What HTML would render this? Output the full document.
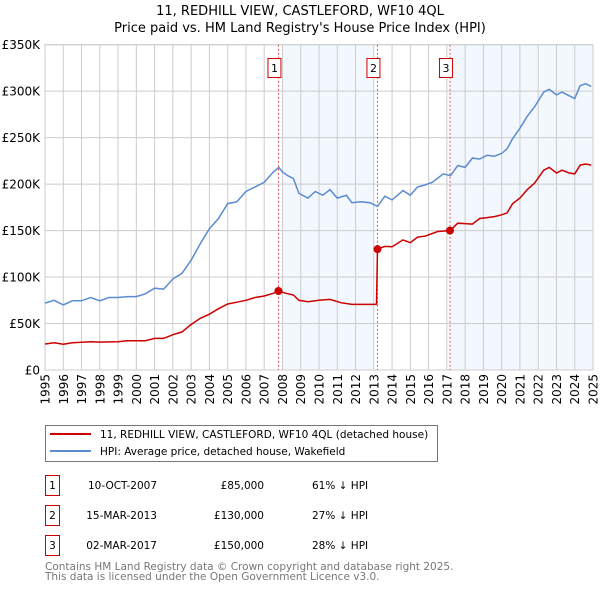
<!DOCTYPE html>
<html><head><meta charset="utf-8"><style>
body{margin:0;background:#fff;}
svg{display:block;font-family:"DejaVu Sans","Liberation Sans",sans-serif;}
</style></head><body>
<svg id="chart" width="600" height="590" viewBox="0 0 600 590">
<text x="300" y="15" text-anchor="middle" font-size="13">11, REDHILL VIEW, CASTLEFORD, WF10 4QL</text>
<text x="300" y="32" text-anchor="middle" font-size="13">Price paid vs. HM Land Registry's House Price Index (HPI)</text>
<g id="plot"></g>
<g>
<rect x="45.5" y="425.5" width="392" height="36" fill="#fff" stroke="#777"/>
<line x1="50" y1="434" x2="91" y2="434" stroke="#cc0000" stroke-width="2"/>
<text x="100" y="438" font-size="10.5">11, REDHILL VIEW, CASTLEFORD, WF10 4QL (detached house)</text>
<line x1="50" y1="451" x2="91" y2="451" stroke="#5b8bd0" stroke-width="2"/>
<text x="100" y="455" font-size="10.5">HPI: Average price, detached house, Wakefield</text>
</g>
<g font-size="10.5">
<rect x="45.5" y="475.5" width="14" height="20" fill="none" stroke="#cc0000"/>
<text x="52.5" y="489" text-anchor="middle">1</text>
<text x="157" y="489" text-anchor="end">10-OCT-2007</text>
<text x="264" y="489" text-anchor="end">£85,000</text>
<text x="312" y="489">61% ↓ HPI</text>
<rect x="45.5" y="505.5" width="14" height="20" fill="none" stroke="#cc0000"/>
<text x="52.5" y="519" text-anchor="middle">2</text>
<text x="157" y="519" text-anchor="end">15-MAR-2013</text>
<text x="264" y="519" text-anchor="end">£130,000</text>
<text x="312" y="519">27% ↓ HPI</text>
<rect x="45.5" y="535.5" width="14" height="20" fill="none" stroke="#cc0000"/>
<text x="52.5" y="549" text-anchor="middle">3</text>
<text x="157" y="549" text-anchor="end">02-MAR-2017</text>
<text x="264" y="549" text-anchor="end">£150,000</text>
<text x="312" y="549">28% ↓ HPI</text>
</g>
<text x="45" y="570" font-size="10.5" fill="#777">Contains HM Land Registry data © Crown copyright and database right 2025.</text>
<text x="45" y="580" font-size="10.5" fill="#777">This data is licensed under the Open Government Licence v3.0.</text>
</svg>
<script>
const yTicks = [0, 50, 100, 150, 200, 250, 300, 350];
const yTickLabels = ["£0","£50K","£100K","£150K","£200K","£250K","£300K","£350K"];
const years = [1995,1996,1997,1998,1999,2000,2001,2002,2003,2004,2005,2006,2007,2008,2009,2010,2011,2012,2013,2014,2015,2016,2017,2018,2019,2020,2021,2022,2023,2024,2025];
const saleDates = [2007.78, 2013.2, 2017.17];
const salePrices = [85, 130, 150];
const saleLabels = ["1","2","3"];
const hpiDates = [1995.0,1995.5,1996.0,1996.5,1997.0,1997.5,1998.0,1998.5,1999.0,1999.5,2000.0,2000.5,2001.0,2001.5,2002.0,2002.5,2003.0,2003.25,2003.5,2004.0,2004.5,2005.0,2005.5,2006.0,2006.5,2007.0,2007.5,2007.8,2008.0,2008.3,2008.6,2008.9,2009.4,2009.8,2010.2,2010.6,2011.0,2011.5,2011.8,2012.3,2012.8,2013.2,2013.6,2014.0,2014.6,2015.0,2015.4,2015.8,2016.2,2016.8,2017.2,2017.6,2018.0,2018.4,2018.8,2019.2,2019.6,2020.0,2020.3,2020.6,2021.0,2021.4,2021.8,2022.3,2022.6,2023.0,2023.3,2023.7,2024.0,2024.3,2024.6,2024.9];
const hpiValues = [72,75,70,74.5,74.5,78,74.5,78,78,79,79,82,88,87,98,104,118,127,136,152,163,179,181,192,197,202,213,218,213,209,206,190,185,192,188,194,185,188,180,181,180,176,187,183,193,188,197,199,202,211,209,220,218,228,227,231,230,233,238,249,260,273,283,299,302,296,299,295,292,306,308,305];
const priceDates = [1995.0,1995.5,1996.0,1996.5,1997.5,1998.0,1999.0,1999.5,2000.5,2001.0,2001.5,2002.0,2002.5,2003.0,2003.5,2004.0,2004.5,2005.0,2005.5,2006.0,2006.5,2007.0,2007.5,2007.78,2008.2,2008.6,2008.9,2009.4,2010.0,2010.6,2011.2,2011.8,2012.5,2013.15,2013.2,2013.6,2014.0,2014.6,2015.0,2015.4,2015.8,2016.5,2017.17,2017.6,2018.0,2018.4,2018.8,2019.2,2019.6,2020.0,2020.3,2020.6,2021.0,2021.4,2021.8,2022.3,2022.6,2023.0,2023.3,2023.7,2024.0,2024.3,2024.6,2024.9];
const priceValues = [28,29.4,27.6,29.4,30.5,30,30.5,31.5,31.5,34,34,38,41,49,55.6,60,66,71,73,75,78,79.6,82.5,85,82.5,80.7,75,73.5,75,76,72.4,70.6,70.6,70.6,130,133,132.6,140,137,143,144,149,150,158,157.5,157,163,164,165,167,169,179,185,194,201,215,218,212,215,212,211,220.5,221.6,220.5];

const X0=45, X1=593, Y0=370, Y1=44.7;
const xs = d => X0 + (d-1995)/(2025-1995)*(X1-X0);
const ys = v => Y0 - v/350*(Y0-Y1);
const NS="http://www.w3.org/2000/svg";
const plot=document.getElementById('plot');
function mk(tag, attrs, parent){const e=document.createElementNS(NS,tag);for(const k in attrs)e.setAttribute(k,attrs[k]);(parent||plot).appendChild(e);return e;}

let s1=mk('rect',{x:xs(2008),y:Y1,width:xs(2013)-xs(2008),height:Y0-Y1,fill:'#eef3fd',opacity:0.7});


let s2=mk('rect',{x:xs(saleDates[2]),y:Y1,width:X1-xs(saleDates[2]),height:Y0-Y1,fill:'#eef3fd',opacity:0.7});



years.forEach(y=>{
  let l=mk('line',{x1:xs(y),x2:xs(y),y1:Y1,y2:Y0,stroke:'#ccc','stroke-width':1});
  
  
  let t=mk('text',{x:0,y:0,'font-size':12,'text-anchor':'end',transform:`translate(${xs(y)+4.5},374) rotate(-90)`});
  t.textContent=y;
  
  
});
yTicks.forEach((v,i)=>{
  let l=mk('line',{x1:X0,x2:X1,y1:ys(v),y2:ys(v),stroke:'#ccc','stroke-width':1});
  
  
  let t=mk('text',{x:40,y:ys(v)+4.5,'font-size':12,'text-anchor':'end'});
  t.textContent=yTickLabels[i];
  
  
});
let fr=mk('rect',{x:X0,y:Y1,width:X1-X0,height:Y0-Y1,fill:'none',stroke:'#ccc'});



saleDates.forEach((d,i)=>{
  let l=mk('line',{x1:xs(d),x2:xs(d),y1:Y1,y2:Y0,stroke:'#e05555','stroke-width':1,'stroke-dasharray':'2,2'});
  
  
  let r=mk('rect',{x:xs(d)-10.5,y:58.5,width:13,height:19,fill:'#fff',stroke:'#cc0000'});
  
  
  let t=mk('text',{x:xs(d)-4,y:72,'font-size':11,'text-anchor':'middle'});
  t.textContent=saleLabels[i];
  
  
});

function pathOf(ds,vs){return ds.map((d,i)=>(i?'L':'M')+xs(d).toFixed(1)+','+ys(vs[i]).toFixed(1)).join('');}
let hp=mk('path',{d:pathOf(hpiDates,hpiValues),fill:'none',stroke:'#5b8bd0','stroke-width':1.5});


let pp=mk('path',{d:pathOf(priceDates,priceValues),fill:'none',stroke:'#cc0000','stroke-width':1.5});


saleDates.forEach((d,i)=>{
  let c=mk('circle',{cx:xs(d),cy:ys(salePrices[i]),r:4,fill:'#cc0000'});
  
  
});
</script>
</body></html>
